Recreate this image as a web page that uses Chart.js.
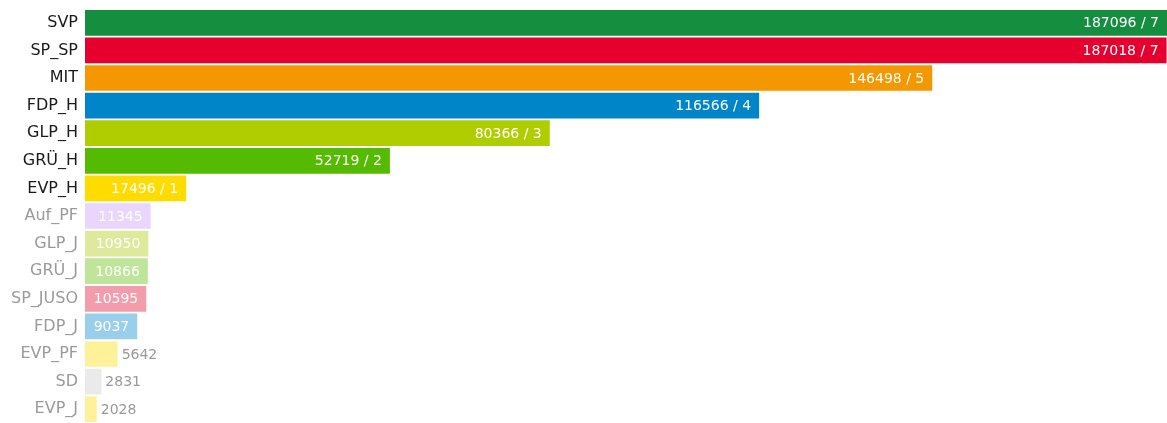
<!DOCTYPE html>
<html lang="de">
<head>
  <meta charset="UTF-8" />
  <title>Listenstimmen</title>
  <script src="https://cdn.jsdelivr.net/npm/chart.js"></script>
  <style>
    html, body {
      margin: 0;
      padding: 0;
      background: #fff;
    }
    #wrap {
      width: 1167px;
      height: 423px;
    }
  </style>
</head>
<body>
  <div id="wrap"><canvas id="listChart"></canvas></div>

  <script>
    const lists = ['SVP', 'SP_SP', 'MIT', 'FDP_H', 'GLP_H', 'GRÜ_H', 'EVP_H', 'Auf_PF', 'GLP_J', 'GRÜ_J', 'SP_JUSO', 'FDP_J', 'EVP_PF', 'SD', 'EVP_J'];
    const votes = [187096, 187018, 146498, 116566, 80366, 52719, 17496, 11345, 10950, 10866, 10595, 9037, 5642, 2831, 2028];
    const seats = [7, 7, 5, 4, 3, 2, 1, null, null, null, null, null, null, null, null];
    const barColors = [
      '#158e40', '#e6002d', '#f39800', '#0085c8', '#afcd00', '#55bb00', '#fedc00',
      '#ead5fc', '#dfe99b', '#bfe59a', '#f39cab', '#9acfeb', '#fff09a', '#eaeaea', '#fff09a'
    ];

    // values inside the bar when they fit, otherwise just right of it
    const valueLabels = {
      id: 'valueLabels',
      afterDatasetsDraw(chart) {
        const ctx = chart.ctx;
        const meta = chart.getDatasetMeta(0);
        const right = chart.width;
        ctx.save();
        ctx.font = '14px "DejaVu Sans", sans-serif';
        ctx.textBaseline = 'middle';
        meta.data.forEach((bar, i) => {
          const txt = seats[i] ? `${votes[i]} / ${seats[i]}` : `${votes[i]}`;
          const w = ctx.measureText(txt).width;
          const end = Math.min(bar.x, right);
          if (w + 16 <= end - bar.base) {
            ctx.fillStyle = '#ffffff';
            ctx.textAlign = 'right';
            ctx.fillText(txt, end - 8, bar.y + 1);
          } else {
            ctx.fillStyle = '#999999';
            ctx.textAlign = 'left';
            ctx.fillText(txt, bar.x + 4, bar.y + 1);
          }
        });
        ctx.restore();
      }
    };

    new Chart(document.getElementById('listChart'), {
      type: 'bar',
      data: {
        labels: lists,
        datasets: [{
          data: votes,
          backgroundColor: barColors,
          borderWidth: 0,
          barPercentage: 0.93,
          categoryPercentage: 1
        }]
      },
      options: {
        indexAxis: 'y',
        responsive: true,
        maintainAspectRatio: false,
        animation: false,
        layout: { padding: { top: 9, right: -3, bottom: 0, left: 0 } },
        plugins: {
          legend: { display: false },
          tooltip: { enabled: false }
        },
        scales: {
          x: {
            display: false,
            min: 0,
            max: Math.max(...votes)
          },
          y: {
            grid: { display: false, drawTicks: false },
            border: { display: false },
            afterFit(scale) {
              scale.width = 85;
              scale.paddingTop = 0;
              scale.paddingBottom = 0;
            },
            ticks: {
              padding: 7,
              font: { family: '"DejaVu Sans", sans-serif', size: 16 },
              color: ctx => (seats[ctx.index] ? '#1a1a1a' : '#9a9a9a')
            }
          }
        }
      },
      plugins: [valueLabels]
    });
  </script>
</body>
</html>
